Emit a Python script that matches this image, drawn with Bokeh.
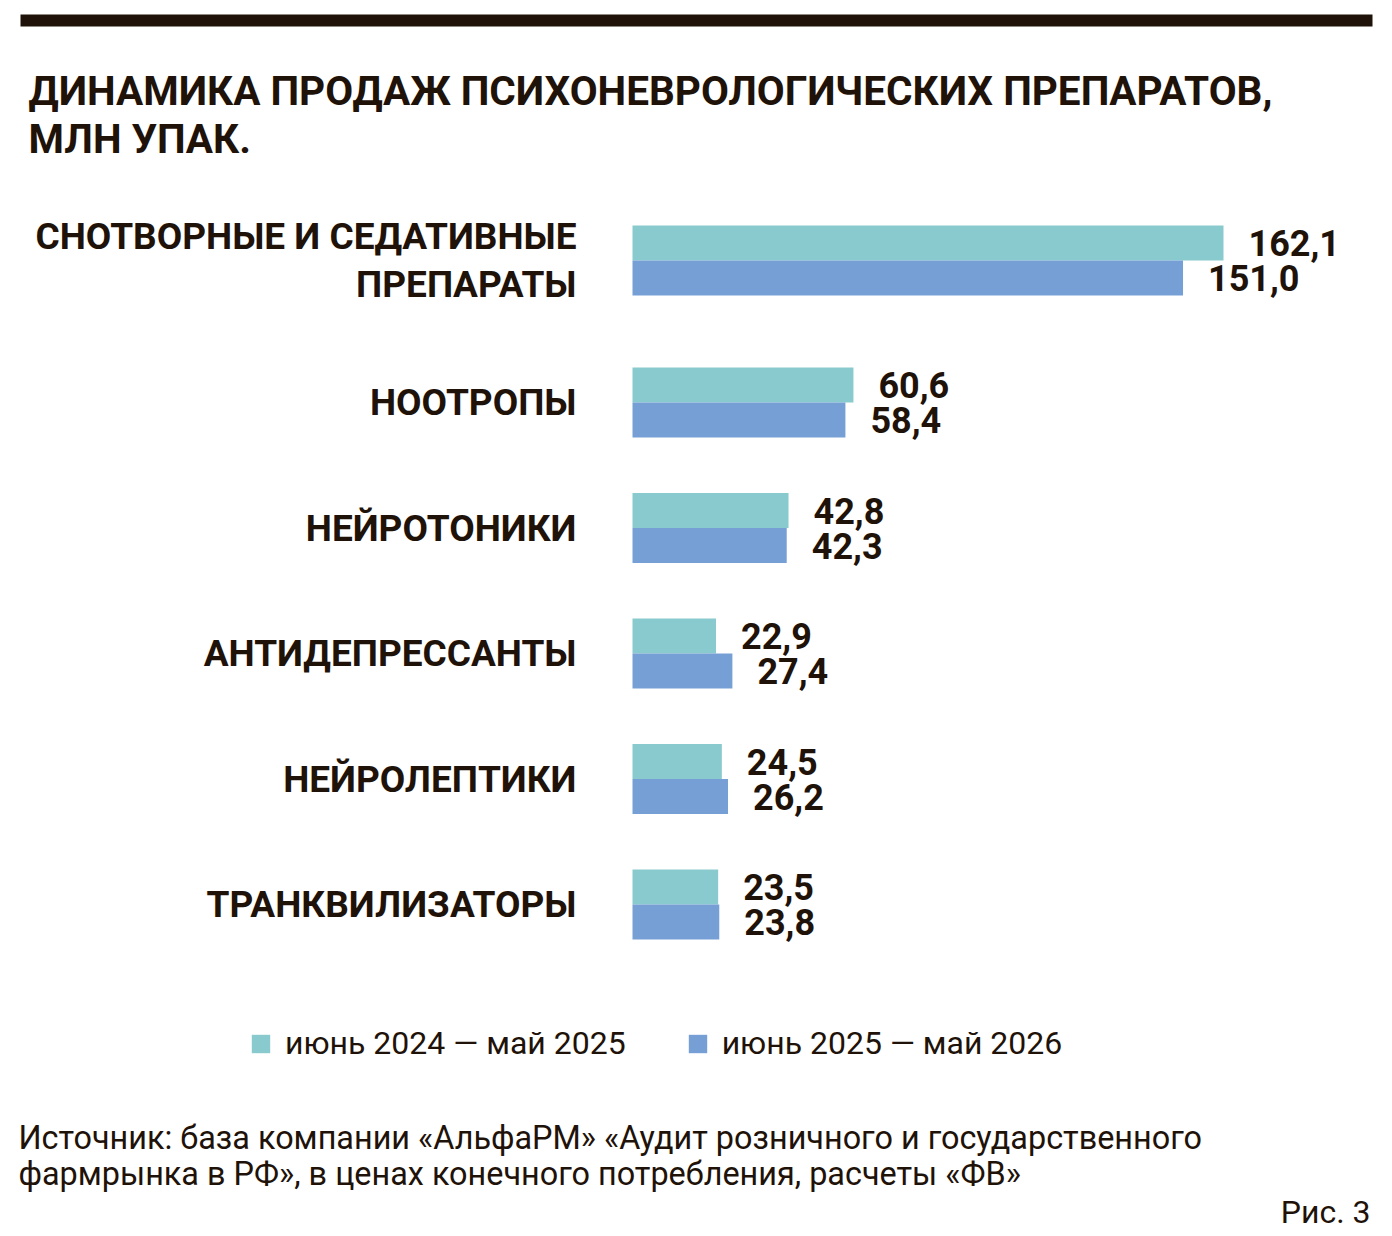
from bokeh.plotting import figure
from bokeh.models import ColumnDataSource, Range1d, Label, Legend, LegendItem, BoxAnnotation
from bokeh.core.properties import value
from bokeh.embed import file_html
from bokeh.resources import INLINE

# --- data -------------------------------------------------------------
categories = [
    "СНОТВОРНЫЕ И СЕДАТИВНЫЕ\nПРЕПАРАТЫ",
    "НООТРОПЫ",
    "НЕЙРОТОНИКИ",
    "АНТИДЕПРЕССАНТЫ",
    "НЕЙРОЛЕПТИКИ",
    "ТРАНКВИЛИЗАТОРЫ",
]
period_prev = [162.1, 60.6, 42.8, 22.9, 24.5, 23.5]   # июнь 2024 — май 2025
period_curr = [151.0, 58.4, 42.3, 27.4, 26.2, 23.8]   # июнь 2025 — май 2026
series_names = ["июнь 2024 — май 2025", "июнь 2025 — май 2026"]

title_lines = ["ДИНАМИКА ПРОДАЖ ПСИХОНЕВРОЛОГИЧЕСКИХ ПРЕПАРАТОВ,", "МЛН УПАК."]
source_lines = [
    "Источник: база компании «АльфаРМ» «Аудит розничного и государственного",
    "фармрынка в РФ», в ценах конечного потребления, расчеты «ФВ»",
]
fig_label = "Рис. 3"

# --- layout -----------------------------------------------------------
W, H = 1392, 1236
X0 = 632            # pixel column where bars start
BAR_SPAN = 591      # pixel length of the longest bar
TEAL = "#89CACE"
BLUE = "#769FD5"
INK = "#1E1209"
FONT = "Roboto"

scale = BAR_SPAN / max(max(period_prev), max(period_curr))


def px(xpix):
    """Convert a horizontal pixel position to data units."""
    return (xpix - X0) / scale


# row centres (vertical axis counts pixels from the top)
first_row = 260
row_step = 125.5
row_y = [first_row] + [first_row + 142 + row_step * (i - 1) for i in range(1, len(categories))]
bar_h = 35

fmt = lambda v: f"{v:.1f}".replace(".", ",")

src_prev = ColumnDataSource(dict(
    y=[c - bar_h / 2 for c in row_y], v=period_prev, lab=[fmt(v) for v in period_prev]))
src_curr = ColumnDataSource(dict(
    y=[c + bar_h / 2 for c in row_y], v=period_curr, lab=[fmt(v) for v in period_curr]))
src_cat = ColumnDataSource(dict(y=row_y, x=[0] * len(categories), name=categories))

p = figure(width=W, height=H, output_backend="svg", toolbar_location=None,
           x_range=Range1d(px(0), px(W)), y_range=Range1d(H, 0),
           x_axis_location=None, y_axis_location=None,
           min_border=0, min_border_left=0, min_border_right=0,
           min_border_top=0, min_border_bottom=0)
p.grid.visible = False
p.outline_line_color = None
p.background_fill_color = "white"
p.border_fill_color = "white"

# top rule
p.add_layout(BoxAnnotation(left=px(20), right=px(1372), top=14, bottom=26,
                           fill_color=INK, fill_alpha=1, line_color=None))

r_prev = p.hbar(y="y", left=0, right="v", height=bar_h, source=src_prev,
                fill_color=TEAL, line_color=None)
r_curr = p.hbar(y="y", left=0, right="v", height=bar_h, source=src_curr,
                fill_color=BLUE, line_color=None)

for s in (src_prev, src_curr):
    p.text(x="v", y="y", text="lab", source=s, x_offset=25,
           text_align="left", text_baseline="middle",
           text_font=value(FONT), text_font_style="bold",
           text_font_size="36px", text_color=INK)

p.text(x="x", y="y", text="name", source=src_cat, x_offset=-56,
       text_align="right", text_baseline="middle", text_line_height=1.12,
       text_font=value(FONT), text_font_style="bold",
       text_font_size="37px", text_color=INK)

# title
for i, line in enumerate(title_lines):
    p.add_layout(Label(x=px(28), y=90 + 48 * i, text=line,
                       text_align="left", text_baseline="middle",
                       text_font=FONT, text_font_style="bold",
                       text_font_size="40.5px", text_color=INK))

# source note
for i, line in enumerate(source_lines):
    p.add_layout(Label(x=px(18), y=1137 + 36 * i, text=line,
                       text_align="left", text_baseline="middle",
                       text_font=FONT, text_font_size="32.4px",
                       text_color=INK))
p.add_layout(Label(x=px(1370), y=1211, text=fig_label,
                   text_align="right", text_baseline="middle",
                   text_font=FONT, text_font_size="32px", text_color=INK))

legend = Legend(items=[LegendItem(label=series_names[0], renderers=[r_prev]),
                       LegendItem(label=series_names[1], renderers=[r_curr])],
                orientation="horizontal", location=(249, 1236 - 1062),
                glyph_width=23, glyph_height=23, label_standoff=13, spacing=60,
                padding=0, margin=0, border_line_color=None,
                background_fill_alpha=0,
                label_text_font=FONT, label_text_font_size="32px",
                label_text_color=INK, label_height=33)
p.add_layout(legend)

open("out.html", "w").write(file_html(p, INLINE))
